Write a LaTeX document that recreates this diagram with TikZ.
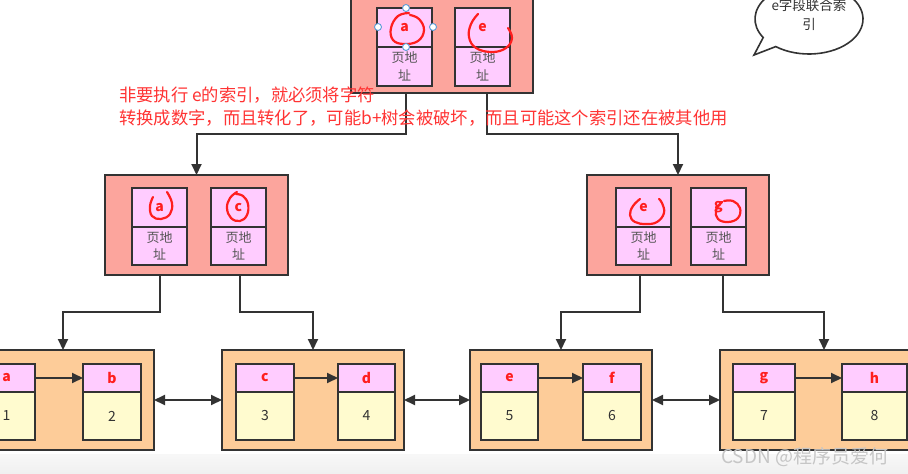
\documentclass[tikz,border=0pt]{standalone}
\usepackage{fontspec}
\setmainfont{Noto Sans CJK SC}
\usetikzlibrary{arrows.meta,calc}
\definecolor{dk}{RGB}{51,51,51}
\definecolor{salmon}{RGB}{252,165,157}
\definecolor{pinkc}{RGB}{255,204,255}
\definecolor{orangec}{RGB}{253,204,153}
\definecolor{yellowc}{RGB}{255,251,207}
\definecolor{redc}{RGB}{255,30,30}
\definecolor{redtext}{RGB}{255,51,51}
\definecolor{celltext}{RGB}{85,85,85}
\definecolor{handleblue}{RGB}{91,155,213}
\tikzset{
  box/.style={draw=dk, line width=1.9pt, inner sep=0pt, outer sep=0pt},
  outerR/.style={box, fill=salmon, minimum width=182pt, minimum height=100pt},
  outerL/.style={box, fill=orangec, minimum height=100pt},
  hdr/.style={box, fill=pinkc, text=redc, font=\bfseries\fontsize{14}{14}\selectfont},
  addr/.style={box, fill=pinkc, text=celltext, align=center, font=\fontsize{13}{17.5}\selectfont, minimum width=55pt, minimum height=39pt},
  lhdr/.style={hdr, minimum height=28pt},
  lbody/.style={box, fill=yellowc, text=dk, font=\fontsize{14}{14}\selectfont, minimum height=48pt},
  conn/.style={draw=dk, line width=2pt, -{Triangle[length=11pt,width=10pt]}},
  dbl/.style={draw=dk, line width=2pt, {Triangle[length=11pt,width=10pt]}-{Triangle[length=11pt,width=10pt]}},
  scribble/.style={draw=redc, line width=2.2pt, line cap=round, line join=round},
  handle/.style={circle, draw=handleblue, fill=white, line width=0.9pt, minimum size=7pt, inner sep=0pt},
  redtxt/.style={text=redtext, font=\fontsize{17.3}{17.3}\selectfont, inner sep=0pt, anchor=west},
}
\begin{document}
\begin{tikzpicture}[x=1pt,y=-1pt]
\useasboundingbox (0,0) rectangle (908,474);
\clip (0,0) rectangle (908,474);
\fill[white] (0,0) rectangle (908,474);
\shade[top color=gray!6, bottom color=gray!12] (0,454) rectangle (908,474);

% top node
\node[outerR] (top) at (442,43) {};
\node[hdr, minimum width=55pt, minimum height=39pt] (ta) at (404.5,27.5) {a};
\node[addr] (tab) at (404.5,66.5) {页地\\址};
\node[hdr, minimum width=55pt, minimum height=39pt] (te) at (482.5,27.5) {e};
\node[addr] (teb) at (482.5,66.5) {页地\\址};

% middle left
\node[outerR, minimum width=183pt] (ml) at (196.5,225) {};
\node[hdr, minimum width=55pt, minimum height=39pt] (mla) at (159.5,207.5) {a};
\node[addr, minimum height=38pt] (mlab) at (159.5,246) {页地\\址};
\node[hdr, minimum width=55pt, minimum height=39pt] (mlc) at (238.5,207.5) {c};
\node[addr, minimum height=38pt] (mlcb) at (238.5,246) {页地\\址};

% middle right
\node[outerR] (mr) at (678,225) {};
\node[hdr, minimum width=55pt, minimum height=39pt] (mre) at (643.5,207.5) {e};
\node[addr, minimum height=38pt] (mreb) at (643.5,246) {页地\\址};
\node[hdr, minimum width=55pt, minimum height=39pt] (mrg) at (718.5,207.5) {g};
\node[addr, minimum height=38pt] (mrgb) at (718.5,246) {页地\\址};

% leaves
\node[outerL, minimum width=182pt] (l1) at (63,400) {};
\node[lhdr, minimum width=57pt] (l1a) at (6.5,378) {a};
\node[lbody, minimum width=57pt] (l1ab) at (6.5,416) {1};
\node[lhdr, minimum width=58pt] (l1b) at (112,378) {b};
\node[lbody, minimum width=58pt] (l1bb) at (112,416) {2};

\node[outerL, minimum width=182pt] (l2) at (313,400) {};
\node[lhdr, minimum width=58pt] (l2c) at (265,378) {c};
\node[lbody, minimum width=58pt] (l2cb) at (265,416) {3};
\node[lhdr, minimum width=57pt] (l2d) at (366.5,378) {d};
\node[lbody, minimum width=57pt] (l2db) at (366.5,416) {4};

\node[outerL, minimum width=182pt] (l3) at (561,400) {};
\node[lhdr, minimum width=57pt] (l3e) at (509.5,378) {e};
\node[lbody, minimum width=57pt] (l3eb) at (509.5,416) {5};
\node[lhdr, minimum width=58pt] (l3f) at (612,378) {f};
\node[lbody, minimum width=58pt] (l3fb) at (612,416) {6};

\node[outerL, minimum width=208pt] (l4) at (824,400) {};
\node[lhdr, minimum width=62pt] (l4g) at (764,378) {g};
\node[lbody, minimum width=62pt] (l4gb) at (764,416) {7};
\node[lhdr, minimum width=65pt] (l4h) at (874.5,378) {h};
\node[lbody, minimum width=65pt] (l4hb) at (874.5,416) {8};

% connectors
\draw[conn] ([xshift=-36pt]top.south) -- ++(0,41) -| (ml.north);
\draw[conn] ([xshift=45pt]top.south) -- ++(0,41) -| (mr.north);
\draw[conn] ([xshift=-36.5pt]ml.south) -- ++(0,37) -| (l1.north);
\draw[conn] ([xshift=43.5pt]ml.south) -- ++(0,37) -| (l2.north);
\draw[conn] ([xshift=-38pt]mr.south) -- ++(0,37) -| (l3.north);
\draw[conn] ([xshift=45pt]mr.south) -- ++(0,37) -| (l4.north);
\draw[dbl] (l1.east) -- (l2.west);
\draw[dbl] (l2.east) -- (l3.west);
\draw[dbl] (l3.east) -- (l4.west);
\draw[conn] (l1a.east) -- (l1b.west);
\draw[conn] (l2c.east) -- (l2d.west);
\draw[conn] (l3e.east) -- (l3f.west);
\draw[conn] (l4g.east) -- (l4h.west);

% red text
\node[redtxt] (t1) at (119,95) {非要执行 e的索引，就必须将字符};
\node[redtxt] (t2) at (119,118) {转换成数字，而且转化了，可能b+树会被破坏，而且可能这个索引还在被其他用};

% red scribbles
\draw[scribble] plot[smooth, tension=0.7] coordinates {(409,13) (398,16) (391,28) (393,40) (404,44) (418,41) (424,30) (419,19) (410,15)};
\draw[scribble] plot[smooth, tension=0.7] coordinates {(478,14) (471,24) (469,37) (476,48) (492,52) (506,48) (512,38) (508,28)};
\draw[scribble] plot[smooth, tension=0.7] coordinates {(167,192) (172,203) (170,214) (161,219) (152,216) (150,206) (153,197)};
\draw[scribble] plot[smooth, tension=0.7] coordinates {(237,192) (230,198) (227,208) (231,218) (240,221) (247,215) (248,204) (243,196) (236,194)};
\draw[scribble] plot[smooth, tension=0.7] coordinates {(640,199) (633,206) (630,215) (635,222) (646,224) (657,222) (664,213) (662,203) (659,199)};
\draw[scribble] plot[smooth, tension=0.7] coordinates {(722,202) (716,210) (718,219) (728,222) (738,218) (740,208) (733,201) (724,201)};

% selection handles
\node[handle] (h1) at (406,8) {};
\node[handle] (h2) at (378,27) {};
\node[handle] (h3) at (433,27) {};
\node[handle] (h4) at (406,47) {};

% speech bubble
\draw[draw=dk, line width=1.6pt, fill=white]
  ($(809,19)+(128:54 and 35)$) coordinate (bs)
  arc[start angle=128, end angle=-212, x radius=54, y radius=35]
  -- (754,55) -- cycle;
\node[text=dk, align=center, font=\fontsize{13.5}{19}\selectfont] (bubble) at (809,14.5) {e字段联合索\\引};

% watermark
\node[text=gray!45, font=\fontsize{19}{19}\selectfont, anchor=west, inner sep=0pt] (wm) at (721,457) {CSDN @程序员爱何};
\end{tikzpicture}
\end{document}
